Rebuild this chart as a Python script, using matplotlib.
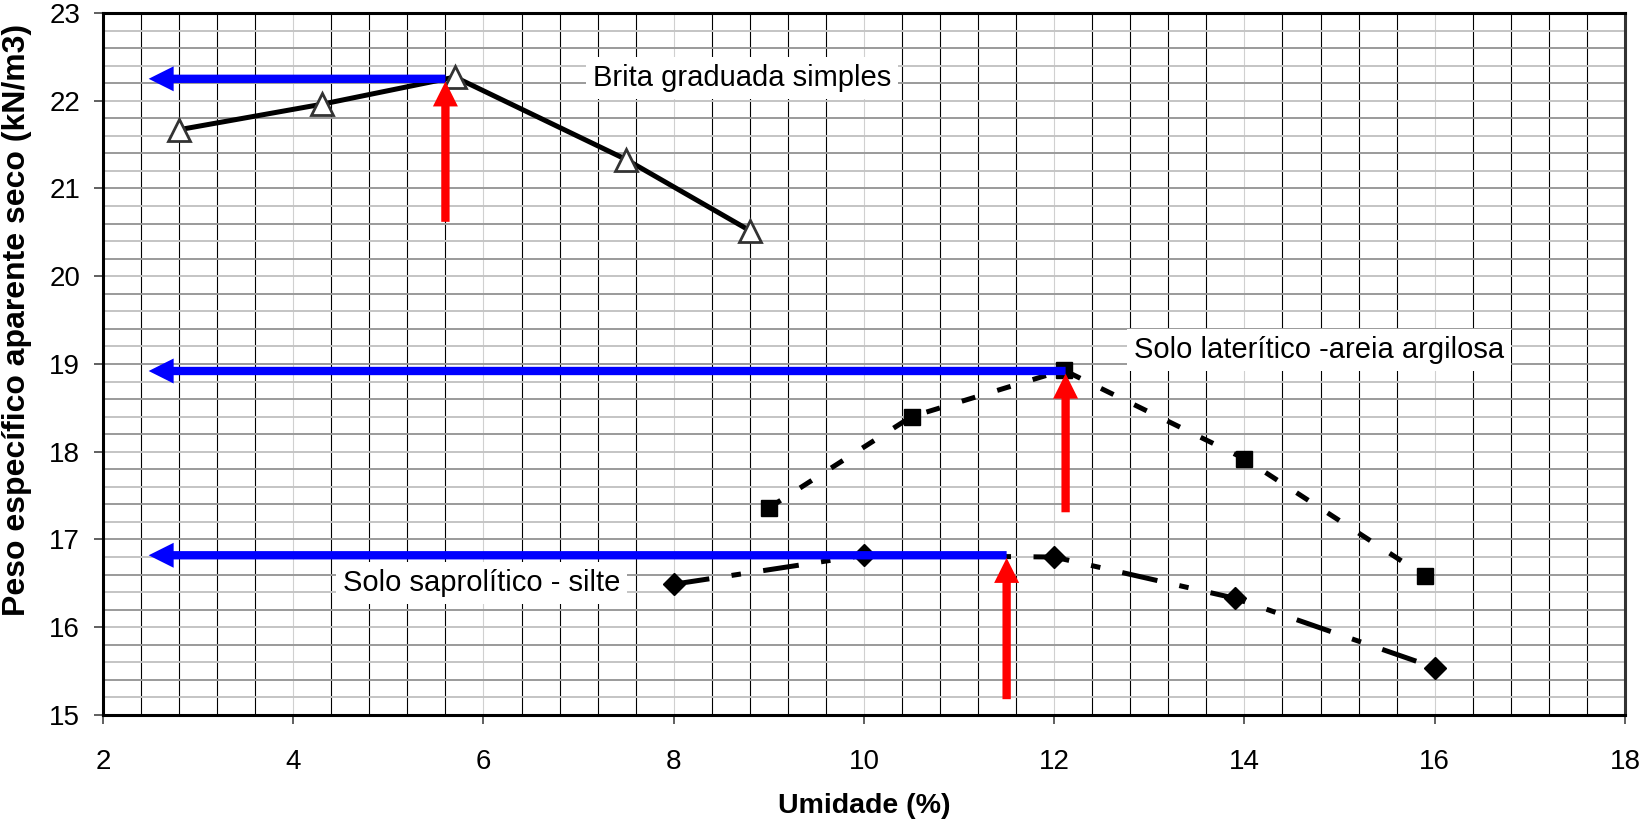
import numpy as np
import matplotlib
matplotlib.use("Agg")
import matplotlib.pyplot as plt

plt.rcParams['font.family'] = ['Liberation Sans', 'DejaVu Sans']

# curvas de compactacao
brita_x = [2.8, 4.3, 5.7, 7.5, 8.8]
brita_y = [21.67, 21.96, 22.27, 21.33, 20.52]

lateritico_x = [9.0, 10.5, 12.1, 14.0, 15.9]
lateritico_y = [17.36, 18.40, 18.93, 17.92, 16.58]

saprolitico_x = [8.0, 10.0, 12.0, 13.9, 16.0]
saprolitico_y = [16.49, 16.82, 16.80, 16.33, 15.54]

# umidade otima / peso especifico maximo lidos em cada curva
hotima = [5.6, 12.12, 11.5]
gmax = [22.25, 18.92, 16.82]
seta_base = [20.62, 17.31, 15.18]
seta_fim_x = 2.48

rotulos = ["Brita graduada simples", "Solo laterítico -areia argilosa", "Solo saprolítico - silte"]
rotulos_pos = [(8.72, 22.26), (14.78, 19.16), (5.98, 16.50)]

fig = plt.figure(figsize=(16.4, 8.22), dpi=100)
ax = fig.add_axes([0.0628, 0.1302, 0.9280, 0.8540])

ax.set_xlim(2, 18)
ax.set_ylim(15, 23)

# grade estilo planilha
for xv in np.arange(2.4, 18.0, 0.4):
    cor = '#d0d0d0' if abs(xv - round(xv)) < 1e-6 and round(xv) % 2 == 0 else 'black'
    ax.axvline(xv, color=cor, lw=0.8, zorder=0)
for i, yv in enumerate(np.arange(15.2, 23.0, 0.2)):
    cor = '#9a9a9a' if i % 2 == 1 else '#c4c4c4'
    ax.axhline(yv, color=cor, lw=1.4, zorder=0)

ax.plot(brita_x, brita_y, color='black', lw=3.6, marker='^', ms=16,
        mfc='white', mec='#333333', mew=2, zorder=3)
ax.plot(lateritico_x, lateritico_y, color='black', lw=3.6,
        linestyle=(0, (2.8, 4.6)), dash_capstyle='butt',
        marker='s', ms=11, mfc='black', mec='black', zorder=3)
ax.plot(saprolitico_x, saprolitico_y, color='black', lw=3.6,
        linestyle=(0, (7.2, 4.5, 1.9, 4.5)), dash_capstyle='butt',
        marker='D', ms=11, mfc='black', mec='black', zorder=3)

estilo = 'simple,head_length=1.8,head_width=1.8,tail_width=0.6'
for hx, gy, yb in zip(hotima, gmax, seta_base):
    ax.annotate('', xy=(seta_fim_x, gy), xytext=(hx, gy),
                arrowprops=dict(arrowstyle=estilo, color='#0000ff', lw=0,
                                mutation_scale=10, shrinkA=0, shrinkB=0),
                zorder=4)
    ax.annotate('', xy=(hx, gy - 0.03), xytext=(hx, yb),
                arrowprops=dict(arrowstyle=estilo, color='#ff0000', lw=0,
                                mutation_scale=10, shrinkA=0, shrinkB=0),
                zorder=5)

for txt, (tx, ty) in zip(rotulos, rotulos_pos):
    ax.text(tx, ty, txt, fontsize=21, ha='center', va='center', zorder=6,
            bbox=dict(facecolor='white', edgecolor='none', pad=5))

ax.set_xticks(np.arange(2, 19, 2))
ax.set_yticks(np.arange(15, 24, 1))
ax.tick_params(axis='both', direction='out', length=6.5, width=1.2,
               color='#444444')
ax.tick_params(axis='x', labelsize=20, pad=18)
ax.tick_params(axis='y', labelsize=20, pad=10)
for s in ax.spines.values():
    s.set_linewidth(2.2)
    s.set_color('black')
ax.spines['right'].set_color('#333333')

fig.text(0.527, 0.020, "Umidade (%)", ha='center', va='center',
         fontsize=20.5, fontweight='bold')
fig.text(0.0105, 0.611, "Peso específico aparente seco (kN/m3)", ha='center',
         va='center', rotation=90, fontsize=23, fontweight='bold')

fig.savefig("out.png", dpi=100)
